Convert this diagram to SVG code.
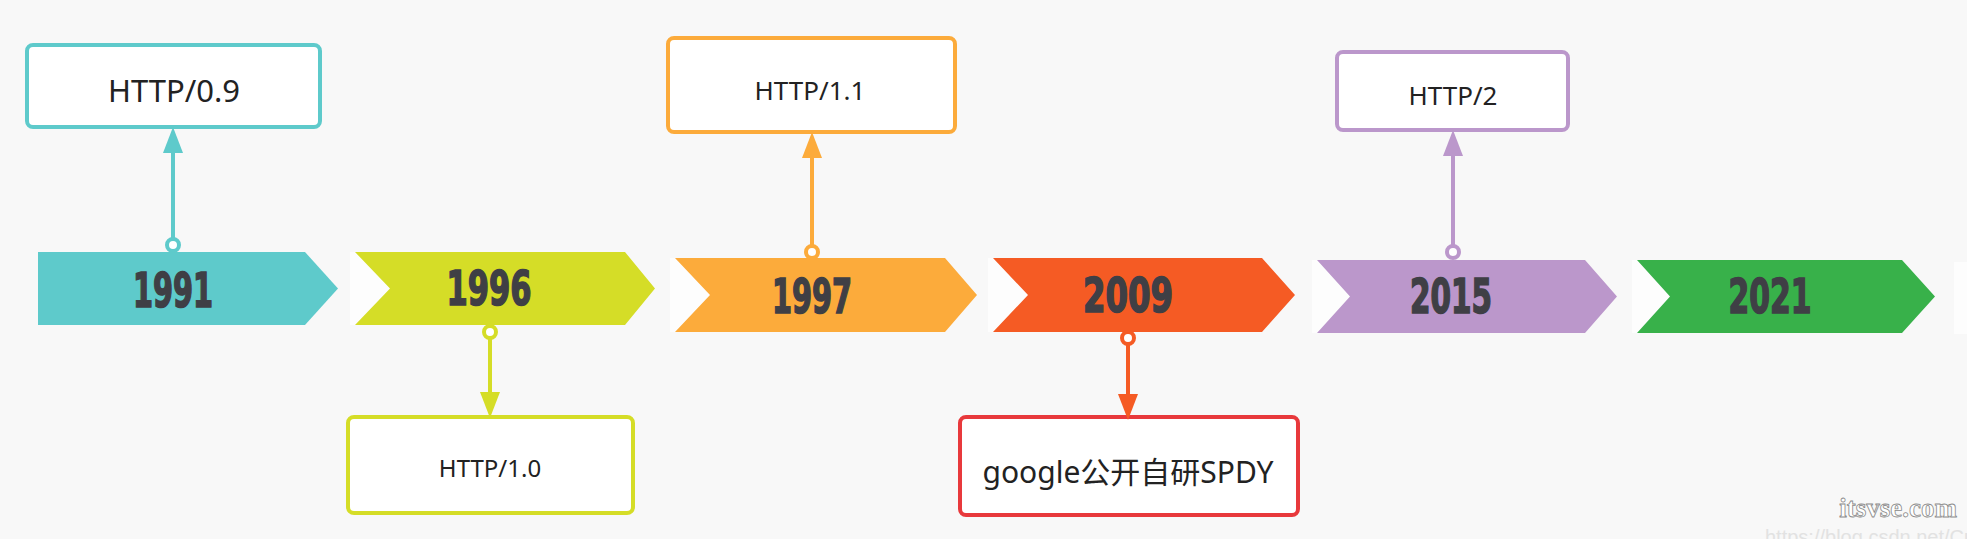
<svg xmlns="http://www.w3.org/2000/svg" width="1967" height="539" viewBox="0 0 1967 539">
<defs>
<style>
.yr{font-family:"Liberation Sans Narrow","DejaVu Sans Condensed","Liberation Sans",sans-serif;font-weight:bold;font-size:48px;fill:#3f3f45;stroke:#3f3f45;stroke-width:1.6;text-anchor:middle}
.lbl{font-family:"Noto Sans","Open Sans","Noto Sans CJK SC",sans-serif;fill:#222;text-anchor:middle}
.box{fill:#fff;stroke-width:4}
.ln{stroke-width:4;fill:none}
.dot{fill:#fff;stroke-width:4}
.notch{fill:#fff;opacity:0.7}
</style>
<marker id="mT" markerUnits="userSpaceOnUse" viewBox="0 0 26 20" markerWidth="26" markerHeight="20" refX="20" refY="10" orient="auto"><path d="M0,0 L26,10 L0,20 z" fill="#5ecacb"/></marker>
<marker id="mL" markerUnits="userSpaceOnUse" viewBox="0 0 26 20" markerWidth="26" markerHeight="20" refX="20" refY="10" orient="auto"><path d="M0,0 L26,10 L0,20 z" fill="#d5dd27"/></marker>
<marker id="mO" markerUnits="userSpaceOnUse" viewBox="0 0 26 20" markerWidth="26" markerHeight="20" refX="20" refY="10" orient="auto"><path d="M0,0 L26,10 L0,20 z" fill="#fcab3b"/></marker>
<marker id="mR" markerUnits="userSpaceOnUse" viewBox="0 0 26 20" markerWidth="26" markerHeight="20" refX="20" refY="10" orient="auto"><path d="M0,0 L26,10 L0,20 z" fill="#f55b24"/></marker>
<marker id="mP" markerUnits="userSpaceOnUse" viewBox="0 0 26 20" markerWidth="26" markerHeight="20" refX="20" refY="10" orient="auto"><path d="M0,0 L26,10 L0,20 z" fill="#bb97cb"/></marker>
</defs>
<rect width="1967" height="539" fill="#f8f8f8"/>

<g id="y1991">
<polygon points="38,252 305,252 338,288.5 305,325 38,325" fill="#5ecacb"/>
<text class="yr" x="173" y="307" textLength="80" lengthAdjust="spacingAndGlyphs">1991</text>
</g>
<g id="y1996">
<polygon class="notch" points="350,252 392,252 392,325 350,325"/>
<polygon points="355,252 625,252 655,288.5 625,325 355,325 390,288.5" fill="#d5dd27"/>
<text class="yr" x="489" y="305" textLength="85" lengthAdjust="spacingAndGlyphs">1996</text>
</g>
<g id="y1997">
<polygon class="notch" points="670,258 712,258 712,332 670,332"/>
<polygon points="675,258 945,258 977,295 945,332 675,332 710,295" fill="#fcab3b"/>
<text class="yr" x="812" y="313" textLength="80" lengthAdjust="spacingAndGlyphs">1997</text>
</g>
<g id="y2009">
<polygon class="notch" points="988,258 1030,258 1030,332 988,332"/>
<polygon points="993,258 1262,258 1295,295 1262,332 993,332 1028,295" fill="#f55b24"/>
<text class="yr" x="1128" y="312" textLength="90" lengthAdjust="spacingAndGlyphs">2009</text>
</g>
<g id="y2015">
<polygon class="notch" points="1312,260 1352,260 1352,333 1312,333"/>
<polygon points="1317,260 1585,260 1617,296.5 1585,333 1317,333 1350,296.5" fill="#bb97cb"/>
<text class="yr" x="1451" y="313" textLength="82" lengthAdjust="spacingAndGlyphs">2015</text>
</g>
<g id="y2021">
<polygon class="notch" points="1632,260 1672,260 1672,333 1632,333"/>
<polygon points="1637,260 1902,260 1935,296.5 1902,333 1637,333 1670,296.5" fill="#38b14a"/>
<text class="yr" x="1770" y="313" textLength="83" lengthAdjust="spacingAndGlyphs">2021</text>
</g>
<rect class="notch" x="1954" y="262" width="13" height="72"/>

<g id="n-http09">
<rect class="box" x="27" y="45" width="293" height="82" rx="6" stroke="#5ecacb"/>
<text class="lbl" x="174" y="102" font-size="31">HTTP/0.9</text>
</g>
<g id="n-http10">
<rect class="box" x="348" y="417" width="285" height="96" rx="6" stroke="#d5dd27"/>
<text class="lbl" x="490" y="477" font-size="24">HTTP/1.0</text>
</g>
<g id="n-http11">
<rect class="box" x="668" y="38" width="287" height="94" rx="6" stroke="#fcab3b"/>
<text class="lbl" x="810" y="100" font-size="26">HTTP/1.1</text>
</g>
<g id="n-spdy">
<rect class="box" x="960" y="417" width="338" height="98" rx="6" stroke="#e8393c"/>
<text class="lbl" x="1128" y="483" font-size="30">google公开自研SPDY</text>
</g>
<g id="n-http2">
<rect class="box" x="1337" y="52" width="231" height="78" rx="6" stroke="#bb97cb"/>
<text class="lbl" x="1453" y="105" font-size="26">HTTP/2</text>
</g>

<g id="connectors">
<line class="ln" x1="173" y1="239" x2="173" y2="133" stroke="#5ecacb" marker-end="url(#mT)"/>
<circle class="dot" cx="173" cy="245" r="6" stroke="#5ecacb"/>
<line class="ln" x1="490" y1="338" x2="490" y2="412" stroke="#d5dd27" marker-end="url(#mL)"/>
<circle class="dot" cx="490" cy="332" r="6" stroke="#d5dd27"/>
<line class="ln" x1="812" y1="246" x2="812" y2="138" stroke="#fcab3b" marker-end="url(#mO)"/>
<circle class="dot" cx="812" cy="252" r="6" stroke="#fcab3b"/>
<line class="ln" x1="1128" y1="344" x2="1128" y2="414" stroke="#f55b24" marker-end="url(#mR)"/>
<circle class="dot" cx="1128" cy="338" r="6" stroke="#f55b24"/>
<line class="ln" x1="1453" y1="246" x2="1453" y2="136" stroke="#bb97cb" marker-end="url(#mP)"/>
<circle class="dot" cx="1453" cy="252" r="6" stroke="#bb97cb"/>
</g>

<text x="1957" y="517" text-anchor="end" font-family="Liberation Serif, serif" font-weight="bold" font-size="27" fill="#fff" stroke="#8a8a8a" stroke-width="0.8">itsvse.com</text>
<text x="1765" y="544" font-family="Liberation Sans, sans-serif" font-size="20" fill="#e2e2e2">https://blog.csdn.net/Cu</text>
</svg>
